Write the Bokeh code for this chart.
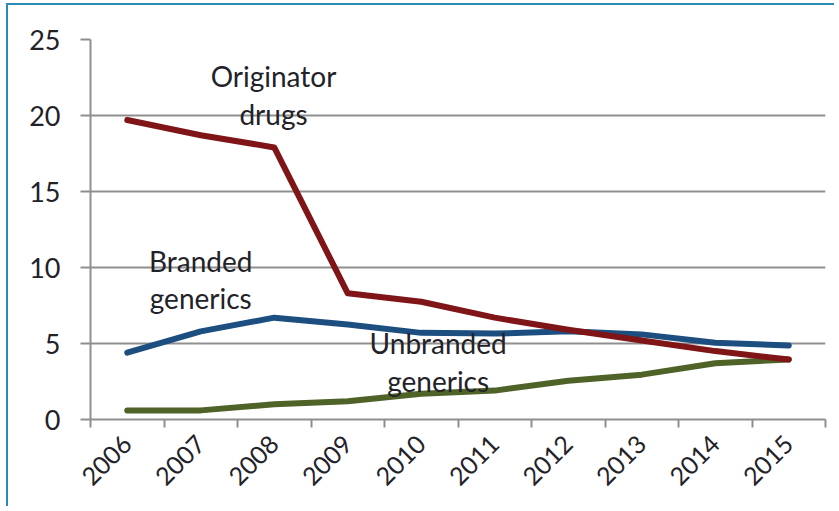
import math
from bokeh.plotting import figure
from bokeh.models import Range1d, LinearAxis, FixedTicker, Label
from bokeh.embed import file_html
from bokeh.resources import INLINE

years = ["2006", "2007", "2008", "2009", "2010", "2011", "2012", "2013", "2014", "2015"]
originator = [19.7, 18.7, 17.9, 8.3, 7.75, 6.7, 5.9, 5.2, 4.5, 3.95]
branded = [4.4, 5.8, 6.7, 6.25, 5.7, 5.65, 5.8, 5.6, 5.05, 4.87]
unbranded = [0.6, 0.6, 1.0, 1.2, 1.7, 1.9, 2.55, 2.95, 3.7, 3.95]
y_ticks = [0, 5, 10, 15, 20, 25]

# category centres on a linear axis (each year occupies one unit)
xs = [i + 0.5 for i in range(len(years))]
edges = list(range(len(years) + 1))

FONT = "Lato"
TXT = "#222228"
GRID = "#8f8f8f"

p = figure(width=828, height=503, x_range=Range1d(0, len(years)),
           y_range=Range1d(0, 25), output_backend="svg", toolbar_location=None,
           x_axis_location=None, y_axis_location=None,
           min_border_left=82, min_border_right=11, min_border_top=34, min_border_bottom=89)
p.outline_line_color = None
p.background_fill_color = "white"
p.border_fill_color = "white"
p.xgrid.grid_line_color = None
p.ygrid.grid_line_color = GRID
p.ygrid.grid_line_width = 2
p.ygrid.ticker = FixedTicker(ticks=y_ticks)

yax = LinearAxis(ticker=FixedTicker(ticks=y_ticks))
yax.axis_line_color = GRID
yax.axis_line_width = 2
yax.major_tick_line_color = GRID
yax.major_tick_line_width = 2
yax.major_tick_out = 10
yax.major_tick_in = 0
yax.minor_tick_line_color = None
yax.major_label_standoff = 20
yax.major_label_text_font = FONT
yax.major_label_text_font_size = "27px"
yax.major_label_text_color = TXT
p.add_layout(yax, "left")

xax = LinearAxis(ticker=FixedTicker(ticks=xs, minor_ticks=edges),
                 major_label_overrides={x: y for x, y in zip(xs, years)})
xax.axis_line_color = GRID
xax.axis_line_width = 2
xax.major_tick_line_color = None
xax.major_tick_out = 0
xax.major_tick_in = 0
xax.minor_tick_line_color = GRID
xax.minor_tick_line_width = 2
xax.minor_tick_out = 8
xax.minor_tick_in = 0
xax.major_label_orientation = math.pi / 4
xax.major_label_standoff = 12
xax.major_label_text_font = FONT
xax.major_label_text_font_size = "25px"
xax.major_label_text_color = TXT
p.add_layout(xax, "below")

p.line(xs, unbranded, line_color="#4f6228", line_width=6, line_join="round", line_cap="round")
p.line(xs, branded, line_color="#1c4f80", line_width=6, line_join="round", line_cap="round")
p.line(xs, originator, line_color="#7f1517", line_width=6, line_join="round", line_cap="round")

def add_label(x, y, text):
    p.add_layout(Label(x=x, y=y, text=text, text_font=FONT, text_font_size="28px",
                       text_color=TXT, text_align="center", text_baseline="middle",
                       text_line_height=1.1))

add_label(2.49, 21.35, "Originator\ndrugs")
add_label(1.50, 9.21, "Branded\ngenerics")
add_label(4.73, 3.78, "Unbranded\ngenerics")

# teal frame line along the top and left of the picture
p.styles = {"margin-left": "6px", "margin-top": "3px",
            "border-top": "2px solid #2b8cb3", "border-left": "2px solid #2b8cb3"}

open("out.html", "w").write(file_html(p, INLINE))
